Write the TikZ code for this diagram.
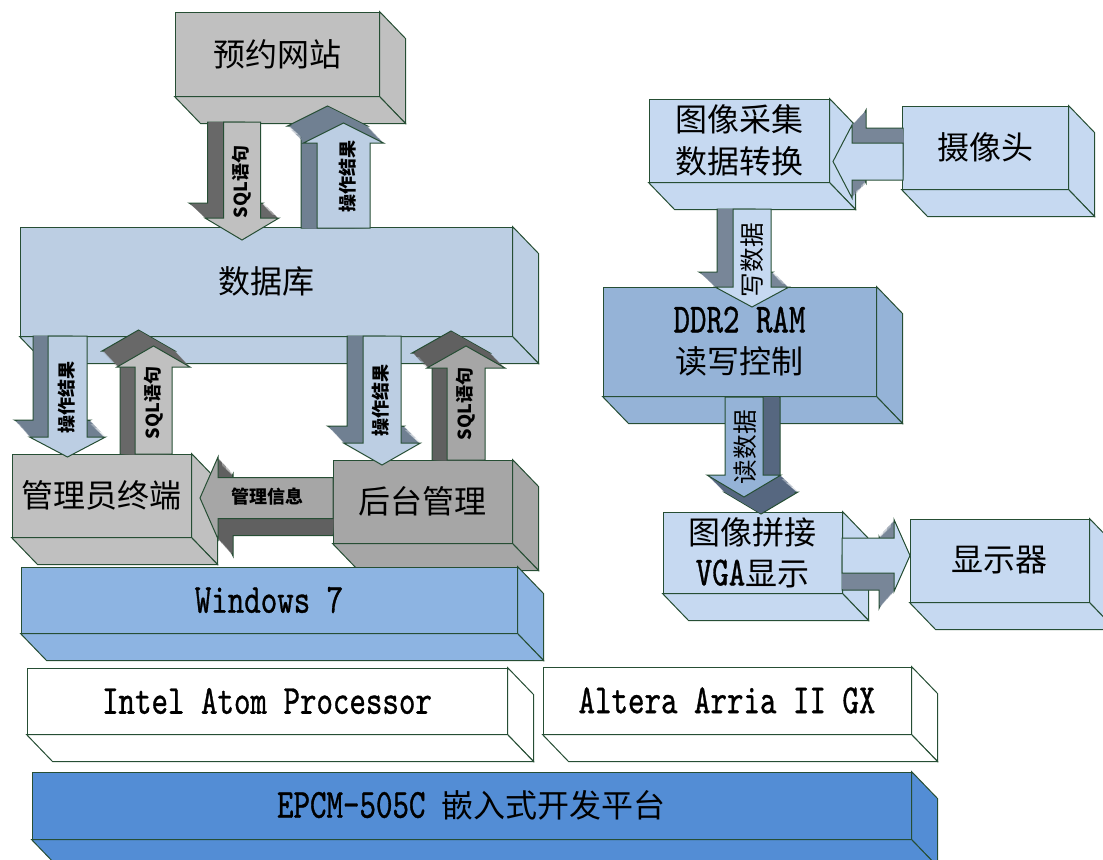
\documentclass[tikz,border=0pt]{standalone}
\usepackage{fontspec}
\newfontfamily\cjk{Noto Sans CJK SC}
\newfontfamily\latfont[FakeStretch=0.76, FakeBold=0.8]{lmmono10-regular.otf}
\usetikzlibrary{calc}
\definecolor{linegreen}{RGB}{38,78,52}
\definecolor{boxgray}{RGB}{192,192,192}
\definecolor{boxdark}{RGB}{166,166,166}
\definecolor{dbblue}{RGB}{188,206,227}
\definecolor{ltblue}{RGB}{198,217,241}
\definecolor{ddrblue}{RGB}{149,179,215}
\definecolor{winblue}{RGB}{141,180,226}
\definecolor{epcmblue}{RGB}{83,141,213}
% arrow faces: lt = front, dk = extruded side
\definecolor{gAlt}{RGB}{192,192,192}
\definecolor{gAdk}{RGB}{104,104,104}
\definecolor{gBlt}{RGB}{166,166,166}
\definecolor{gBdk}{RGB}{96,96,96}
\definecolor{bAlt}{RGB}{188,206,227}
\definecolor{bAdk}{RGB}{112,128,146}
\definecolor{lBlt}{RGB}{198,217,241}
\definecolor{lBdk}{RGB}{120,134,152}
\definecolor{dBlt}{RGB}{149,179,215}
\definecolor{dBdk}{RGB}{86,103,128}

\newcommand{\bigcjk}{\cjk\fontsize{24}{31}\selectfont}
\newcommand{\lat}{\latfont\fontsize{31}{31}\selectfont}

% right and bottom faces of a box node
\newcommand{\boxsides}[2]{%
  \draw[edge, fill=#2] (#1.north east) -- ++(26,27) -- ($(#1.south east)+(26,27)$) -- (#1.south east) -- cycle;
  \draw[edge, fill=#2] (#1.south west) -- ++(26,27) -- ($(#1.south east)+(26,27)$) -- (#1.south east) -- cycle;
}
% block arrow outlines: centre, start, head base, tip, half widths, shift
\newcommand{\vpath}[8]{({#1-#5+#7},{#2}) -- ({#1-#5+#7},{#3+#8}) -- ({#1-#6+#7},{#3+#8}) -- ({#1+#7},{#4+#8}) -- ({#1+#6+#7},{#3+#8}) -- ({#1+#5+#7},{#3+#8}) -- ({#1+#5+#7},{#2}) -- cycle}
\newcommand{\hpath}[8]{({#2},{#1-#5+#8}) -- ({#3+#7},{#1-#5+#8}) -- ({#3+#7},{#1-#6+#8}) -- ({#4+#7},{#1+#8}) -- ({#3+#7},{#1+#6+#8}) -- ({#3+#7},{#1+#5+#8}) -- ({#2},{#1+#5+#8}) -- cycle}
\newcommand{\varrow}[9]{%
  \draw[edge, fill=#9dk] \vpath{#1}{#2}{#3}{#4}{#5}{#6}{(#7)}{(#8)};
  \foreach \k in {15,...,1}{\fill[#9dk] \vpath{#1}{#2}{#3}{#4}{#5}{#6}{(#7)*\k/16}{(#8)*\k/16};}
  \draw[edge, fill=#9lt] \vpath{#1}{#2}{#3}{#4}{#5}{#6}{0}{0};
}
\newcommand{\harrow}[9]{%
  \draw[edge, fill=#9dk] \hpath{#1}{#2}{#3}{#4}{#5}{#6}{(#7)}{(#8)};
  \foreach \k in {15,...,1}{\fill[#9dk] \hpath{#1}{#2}{#3}{#4}{#5}{#6}{(#7)*\k/16}{(#8)*\k/16};}
  \draw[edge, fill=#9lt] \hpath{#1}{#2}{#3}{#4}{#5}{#6}{0}{0};
}

\begin{document}
\begin{tikzpicture}[
  x=0.75pt, y=-0.75pt,
  edge/.style={draw=linegreen, line width=0.75pt},
  face/.style={edge, inner sep=0pt, align=center, font=\bigcjk},
  size/.style 2 args={minimum width=#1*0.75pt, minimum height=#2*0.75pt},
  lbl/.style={inner sep=0pt, font=\cjk\bfseries\fontsize{13.5}{14}\selectfont},
  biglbl/.style={inner sep=0pt, font=\cjk\fontsize{18.5}{19}\selectfont}
]
\useasboundingbox (0,0) rectangle (1103,860);
\clip (0,0) rectangle (1103,860);

% website and database
\node[face, fill=dbblue, size={492}{109}] (db) at (266,281.5) {数据库};
\boxsides{db}{dbblue}
\node[face, fill=boxgray, size={204}{84}] (yy) at (277,54) {预约网站};
\boxsides{yy}{boxgray}
\varrow{242}{122}{218}{240}{18.5}{37}{-16}{-15}{gA}
\node[lbl, rotate=90] (l1) at (242,182) {SQL语句};
\varrow{343.5}{228}{143}{123}{26.5}{40}{-16}{-17}{bA}
\node[lbl, rotate=90] (l2) at (348,176) {操作结果};

% terminals
\node[face, fill=boxgray, size={179}{83}] (gly) at (101.5,495.5) {管理员终端};
\boxsides{gly}{boxgray}
\node[face, fill=boxdark, size={179}{83}] (ht) at (422.5,501.5) {后台管理};
\boxsides{ht}{boxdark}
\varrow{67.5}{336}{437}{457}{19.5}{38}{-15}{-17}{bA}
\node[lbl, rotate=90] (l3) at (67,397) {操作结果};
\varrow{153.5}{454}{367}{346}{18.5}{36.5}{-15}{-16}{gA}
\node[lbl, rotate=90] (l4) at (154,403) {SQL语句};
\varrow{382}{336}{443}{465}{19}{38.5}{-16}{-17}{bA}
\node[lbl, rotate=90] (l5) at (381,400) {操作结果};
\varrow{466}{460}{368}{346}{19}{39}{-15}{-15}{gB}
\node[lbl, rotate=90] (l6) at (466,404) {SQL语句};
\harrow{498}{333}{218}{200}{20.5}{41}{15}{17}{gB}
\node[lbl] (l7) at (267,497) {管理信息};

% platform layers
\node[face, fill=winblue, font=\lat, size={496}{66}] (win) at (269,600) {Windows 7};
\boxsides{win}{winblue}
\node[face, fill=white, font=\lat, size={480}{66}] (cpu) at (267,701) {Intel Atom Processor};
\boxsides{cpu}{white}
\node[face, fill=white, font=\lat, size={368}{67}] (fpga) at (727,700.5) {Altera Arria II GX};
\boxsides{fpga}{white}
\node[face, fill=epcmblue, size={879}{67}] (epcm) at (471.5,805.5) {{\lat EPCM-505C }嵌入式开发平台};
\boxsides{epcm}{epcmblue}

% video path
\node[face, fill=ltblue, size={180}{83}] (cj) at (739,140.5) {图像采集\\数据转换};
\boxsides{cj}{ltblue}
\node[face, fill=ltblue, size={166}{83}] (cam) at (985,147.5) {摄像头};
\boxsides{cam}{ltblue}
\harrow{161.5}{903}{852}{833}{18.5}{36.5}{14}{-15}{lB}
\node[face, fill=ddrblue, size={273}{109}] (ddr) at (739.5,341.5) {{\lat DDR2 RAM}\\读写控制};
\boxsides{ddr}{ddrblue}
\varrow{752}{209}{287}{307}{19}{37}{-16}{-15}{lB}
\node[biglbl, rotate=90] (l8) at (752,260) {写数据};
\node[face, fill=ltblue, size={179}{81}] (vga) at (752.5,552.5) {图像拼接\\{\lat VGA}显示};
\boxsides{vga}{ltblue}
\varrow{744}{397}{475}{497}{19}{37}{17}{17}{dB}
\node[biglbl, rotate=90] (l9) at (745,447) {读数据};
\node[face, fill=ltblue, size={179}{83}] (lcd) at (999.5,560.5) {显示器};
\boxsides{lcd}{ltblue}
\harrow{555.5}{842}{894}{910}{17.5}{36}{-15}{17}{lB}
\end{tikzpicture}
\end{document}
